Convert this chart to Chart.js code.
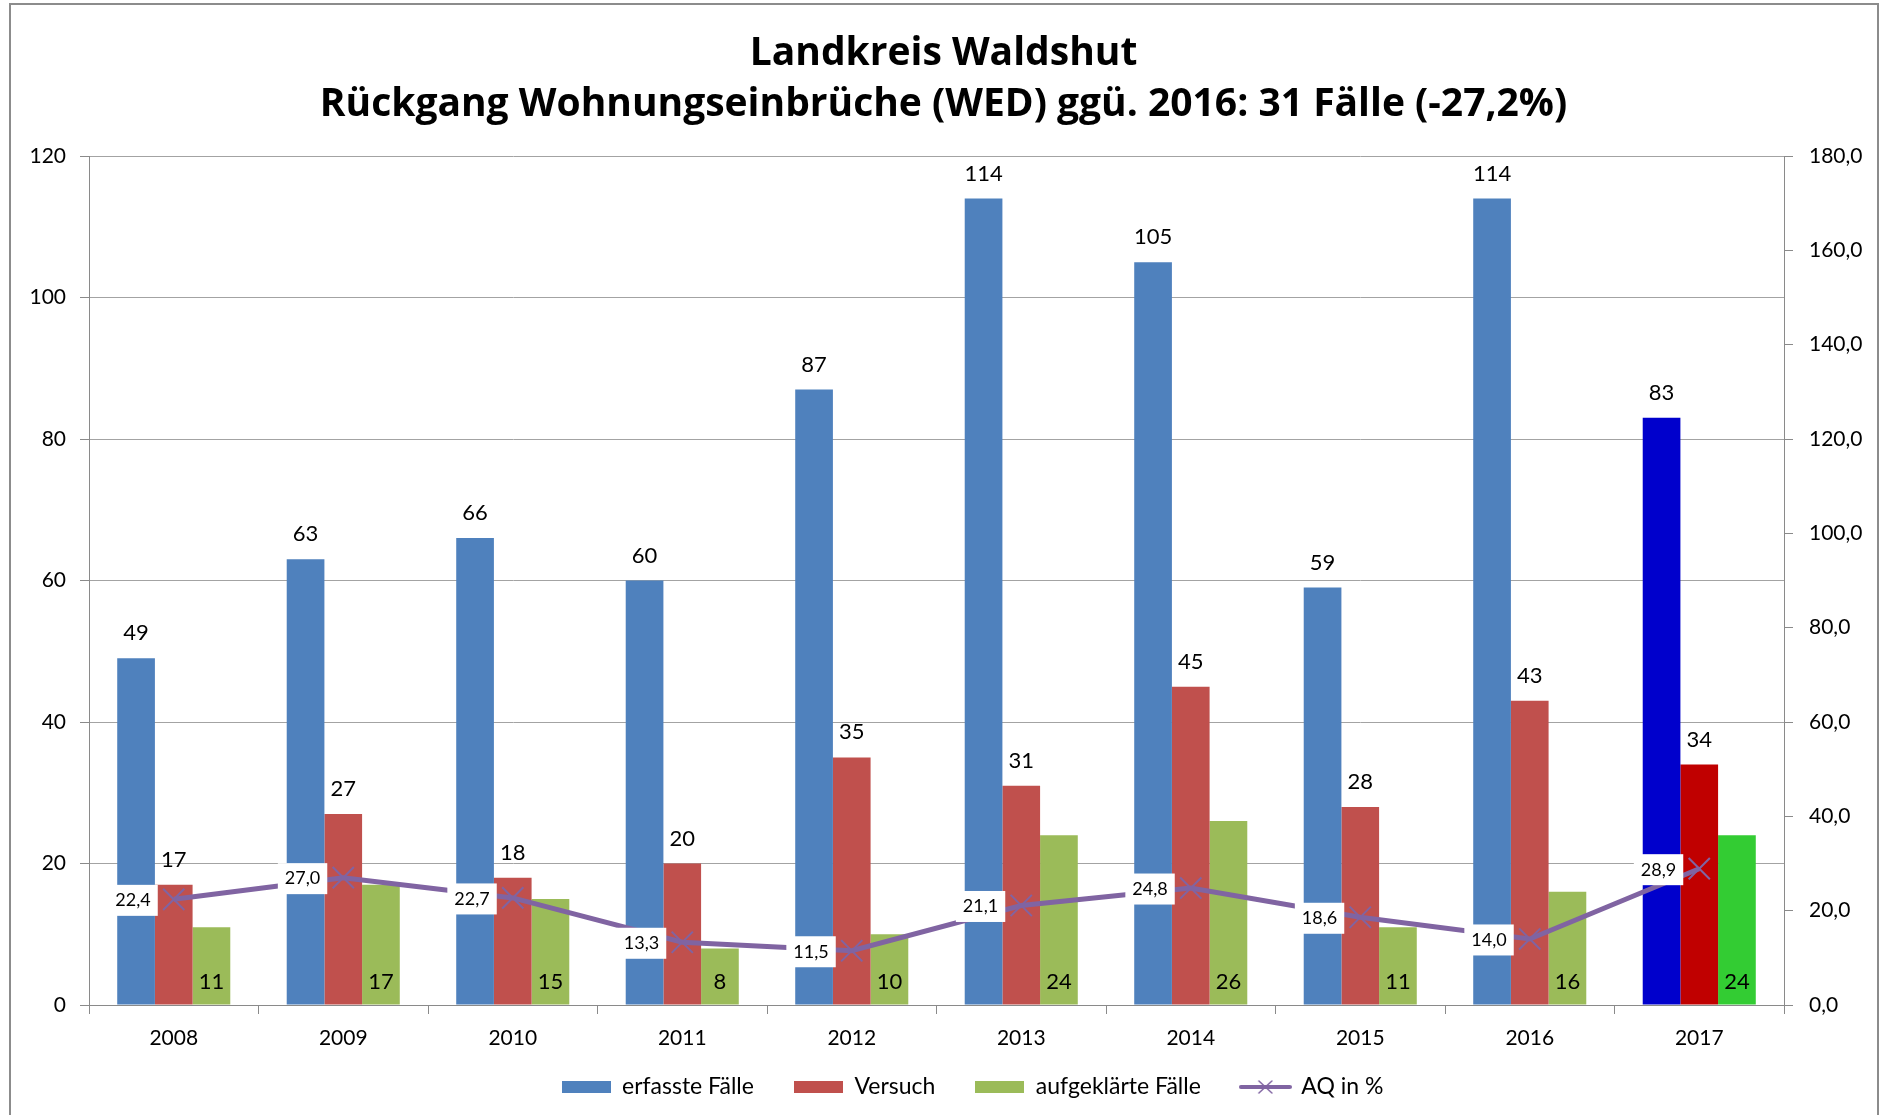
<!DOCTYPE html>
<html>
<head>
<meta charset="utf-8">
<script src="https://cdn.jsdelivr.net/npm/chart.js@4.4.1/dist/chart.umd.min.js"></script>
<style>
html,body{margin:0;padding:0;background:#fff;}
#wrap{position:relative;width:1887px;height:1115px;overflow:hidden;}
#frame{position:absolute;left:9px;top:3px;width:1870px;height:1200px;border:2px solid #8c8c8c;box-sizing:border-box;pointer-events:none;}
</style>
</head>
<body>
<div id="wrap"><canvas id="c"></canvas><div id="frame"></div></div>
<script>
// ---- data ----
const categories = ['2008','2009','2010','2011','2012','2013','2014','2015','2016','2017'];
const erfassteFaelle = [49, 63, 66, 60, 87, 114, 105, 59, 114, 83];
const versuch = [17, 27, 18, 20, 35, 31, 45, 28, 43, 34];
const aufgeklaerteFaelle = [11, 17, 15, 8, 10, 24, 26, 11, 16, 24];
const aqProzent = [22.4, 27.0, 22.7, 13.3, 11.5, 21.1, 24.8, 18.6, 14.0, 28.9];
const seriesNames = ['erfasste Fälle', 'Versuch', 'aufgeklärte Fälle', 'AQ in %'];
const titleLines = ['Landkreis Waldshut', 'Rückgang Wohnungseinbrüche (WED) ggü. 2016: 31 Fälle (-27,2%)'];
const leftAxisRange = [0, 120, 20];
const rightAxisRange = [0, 180, 20];

// ---- styles ----
const C_BLUE = '#4F81BD', C_RED = '#C0504D', C_GREEN = '#9BBB59', C_PURPLE = '#8064A2';
const H_BLUE = '#0000CC', H_RED = '#C00000', H_GREEN = '#33CC33';
const GRID = '#a3a3a3', AXIS = '#8a8a8a';
const FONT = 'Lato';
const TITLE_FONT = '"Open Sans"';
const colorsFor = (base, hi) => categories.map((c, i) => i === categories.length - 1 ? hi : base);
const fmt1 = v => v.toFixed(1).replace('.', ',');

function makeIcon(kind, color) {
  const cv = document.createElement('canvas');
  if (kind === 'line') {
    cv.width = 53; cv.height = 16;
    const g = cv.getContext('2d');
    g.strokeStyle = color; g.lineWidth = 4; g.lineCap = 'round';
    g.beginPath(); g.moveTo(2, 8); g.lineTo(51, 8); g.stroke();
    g.lineWidth = 1.5;
    g.beginPath(); g.moveTo(20, 2); g.lineTo(33, 14); g.moveTo(33, 2); g.lineTo(20, 14); g.stroke();
  } else {
    cv.width = 49; cv.height = 12;
    const g = cv.getContext('2d');
    g.fillStyle = color; g.fillRect(0, 0, 49, 12);
  }
  return cv;
}
const legendIcons = [makeIcon('bar', C_BLUE), makeIcon('bar', C_RED), makeIcon('bar', C_GREEN), makeIcon('line', C_PURPLE)];

const valueLabels = {
  id: 'valueLabels',
  afterDatasetsDraw(chart) {
    const ctx = chart.ctx;
    ctx.save();
    ctx.fillStyle = '#000';
    ctx.textAlign = 'center';
    ctx.textBaseline = 'middle';
    ctx.font = '22px ' + FONT;
    [0, 1].forEach(di => {
      chart.getDatasetMeta(di).data.forEach((el, i) => {
        ctx.fillText(String(chart.data.datasets[di].data[i]), el.x, el.y - 25);
      });
    });
    chart.getDatasetMeta(2).data.forEach((el, i) => {
      ctx.fillText(String(chart.data.datasets[2].data[i]), el.x, el.base - 23);
    });
    ctx.font = '18px ' + FONT;
    chart.getDatasetMeta(3).data.forEach((el, i) => {
      const txt = fmt1(chart.data.datasets[3].data[i]);
      const w = ctx.measureText(txt).width + 14, h = 31;
      const right = el.x - 16;
      ctx.fillStyle = '#fff';
      ctx.fillRect(right - w, el.y - h / 2 + 1, w, h);
      ctx.fillStyle = '#000';
      ctx.fillText(txt, right - w / 2, el.y + 1);
    });
    ctx.restore();
  }
};

const legendPlace = {
  id: 'legendPlace',
  afterLayout(chart) {
    const lg = chart.legend;
    if (!lg) return;
    lg.top = chart.chartArea.bottom + 30.5;
    lg.bottom = lg.top + 90;
    lg.left += 29; lg.right += 29;
  }
};

function draw() {
  Chart.defaults.font.family = FONT;
  Chart.defaults.color = '#000';
  new Chart(document.getElementById('c'), {
    type: 'bar',
    data: {
      labels: categories,
      datasets: [
        { label: seriesNames[0], data: erfassteFaelle, backgroundColor: colorsFor(C_BLUE, H_BLUE), yAxisID: 'y' },
        { label: seriesNames[1], data: versuch, backgroundColor: colorsFor(C_RED, H_RED), yAxisID: 'y' },
        { label: seriesNames[2], data: aufgeklaerteFaelle, backgroundColor: colorsFor(C_GREEN, H_GREEN), yAxisID: 'y' },
        { type: 'line', label: seriesNames[3], data: aqProzent, yAxisID: 'y1', order: -1,
          borderColor: C_PURPLE, backgroundColor: C_PURPLE, borderWidth: 5, tension: 0,
          pointStyle: 'crossRot', pointRadius: 15, pointBorderWidth: 2, pointBorderColor: C_PURPLE }
      ]
    },
    options: {
      responsive: true,
      maintainAspectRatio: false,
      animation: false,
      datasets: { bar: { categoryPercentage: 0.667, barPercentage: 1.0 } },
      layout: { padding: { top: 29, bottom: 5, left: 0, right: 0 } },
      plugins: {
        tooltip: { enabled: false },
        title: {
          display: true, text: titleLines, color: '#000',
          font: { family: TITLE_FONT, size: 39, weight: 'bold', lineHeight: 1.3 },
          padding: { top: 0, bottom: 25.6 }
        },
        legend: {
          position: 'bottom',
          maxHeight: 50,
          labels: {
            usePointStyle: true, pointStyleWidth: 49, boxHeight: 12,
            padding: 40, color: '#000', font: { family: FONT, size: 23 },
            generateLabels(chart) {
              return chart.data.datasets.map((ds, i) => ({
                text: ds.label, pointStyle: legendIcons[i], datasetIndex: i, hidden: false,
                fontColor: '#000', lineWidth: 0, strokeStyle: 'rgba(0,0,0,0)', fillStyle: 'rgba(0,0,0,0)'
              }));
            }
          }
        }
      },
      scales: {
        x: {
          offset: true,
          grid: { display: true, drawOnChartArea: false, offset: true, tickLength: 9, color: AXIS },
          border: { color: AXIS, width: 1 },
          ticks: { font: { family: FONT, size: 21 }, color: '#000', padding: 12 },
          afterFit(s) { s.height = 55; }
        },
        y: {
          position: 'left',
          min: leftAxisRange[0], max: leftAxisRange[1],
          ticks: { stepSize: leftAxisRange[2], font: { family: FONT, size: 21 }, color: '#000', padding: 14 },
          grid: { color: GRID, tickLength: 9, tickColor: AXIS },
          border: { color: AXIS, width: 1 },
          afterFit(s) { s.width = 89; }
        },
        y1: {
          position: 'right',
          min: rightAxisRange[0], max: rightAxisRange[1],
          ticks: { stepSize: rightAxisRange[2], font: { family: FONT, size: 21 }, color: '#000', padding: 16,
                   callback: v => fmt1(v) },
          grid: { drawOnChartArea: false, tickLength: 9, color: AXIS },
          border: { color: AXIS, width: 1 },
          afterFit(s) { s.width = 103; }
        }
      }
    },
    plugins: [valueLabels, legendPlace]
  });
}
if (document.fonts && document.fonts.load) {
  Promise.all([document.fonts.load('bold 39px "Open Sans"'), document.fonts.load('20px Lato')]).then(draw, draw);
} else { draw(); }
</script>
</body>
</html>
